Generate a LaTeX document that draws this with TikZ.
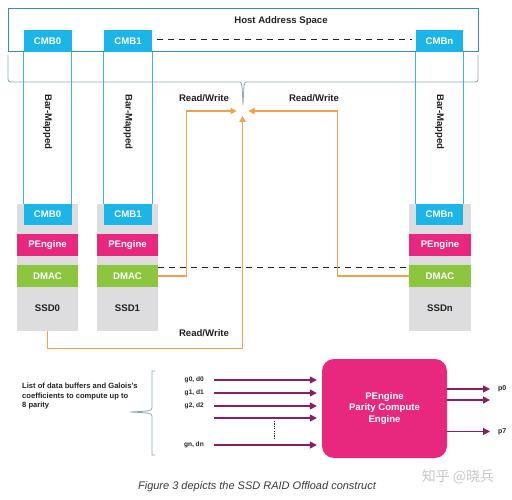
\documentclass[tikz,border=0pt]{standalone}
\usepackage{fontspec}
\setmainfont{Liberation Sans}
\newfontfamily\cjk{Noto Sans CJK SC}
\usetikzlibrary{arrows.meta}
\definecolor{cmbc}{HTML}{1CB5E8}
\definecolor{colline}{HTML}{3DB4D8}
\definecolor{hostc}{HTML}{3A8EA6}
\definecolor{pec}{HTML}{E8287F}
\definecolor{dmc}{HTML}{8CC63F}
\definecolor{ssdc}{HTML}{DDDDDF}
\definecolor{orc}{HTML}{EFA24A}
\definecolor{arc}{HTML}{8A1D5E}
\definecolor{brc}{HTML}{8AA6B6}
\definecolor{txtc}{HTML}{222222}
\definecolor{capc}{HTML}{3A3A3A}
\begin{document}
\begin{tikzpicture}[x=1pt,y=-1pt,
  lbl/.style={font=\fontsize{9.6}{11.5}\selectfont\bfseries, text=txtc},
  wlbl/.style={font=\fontsize{9.6}{11.5}\selectfont\bfseries, text=white, inner sep=0pt},
  cmbbox/.style={wlbl, fill=cmbc, minimum height=22pt},
  cmbbot/.style={wlbl, fill=cmbc, minimum height=21pt},
  pebox/.style={wlbl, fill=pec, minimum height=22pt, minimum width=61pt},
  dmbox/.style={wlbl, fill=dmc, minimum height=22pt, minimum width=61pt},
  ssdbox/.style={fill=ssdc, minimum height=127pt, inner sep=0pt},
  colln/.style={draw=colline, line width=0.9pt},
  dashln/.style={draw=txtc, line width=0.8pt, dash pattern=on 6pt off 5pt},
  orln/.style={draw=orc, line width=1.2pt, -{Triangle[length=6pt,width=6.5pt]}},
  inarr/.style={draw=arc, line width=1.4pt, -{Triangle[length=7pt,width=7pt]}},
  brace/.style={draw=brc, line width=0.8pt},
  small/.style={font=\fontsize{6.6}{8}\selectfont\bfseries, text=txtc, inner sep=0pt}
]
\useasboundingbox (0,0) rectangle (512,500);

% Host address space
\node[draw=hostc, line width=1pt, minimum width=470pt, minimum height=43pt, inner sep=0pt] (host) at (243,30.5) {};
\node[lbl] (hosttitle) at (281,21) {Host Address Space};

% top CMBs
\node[cmbbox, minimum width=48pt] (cmb0t) at (47.5,41) {CMB0};
\node[cmbbox, minimum width=48pt] (cmb1t) at (128,41) {CMB1};
\node[cmbbox, minimum width=47pt] (cmbnt) at (439.5,41) {CMBn};
\draw[dashln] ([xshift=5pt,yshift=2pt]cmb1t.east) -- ([xshift=-4pt,yshift=2pt]cmbnt.west);

% brace under host
\draw[brace] (8,55) -- (8,76) .. controls (8,82) .. (14,82) -- (240,82)
  .. controls (242,83) .. (243,105) .. controls (244,83) .. (246,82)
  -- (472,82) .. controls (478,82) .. (478,76) -- (478,55);

% SSD columns
\node[ssdbox, minimum width=61pt] (ssd0) at (47.5,267.5) {};
\node[ssdbox, minimum width=61pt] (ssd1) at (127.5,267.5) {};
\node[ssdbox, minimum width=62pt] (ssdn) at (440,267.5) {};

\node[cmbbot, minimum width=48pt] (cmb0b) at (47.5,214.5) {CMB0};
\node[cmbbot, minimum width=48pt] (cmb1b) at (128,214.5) {CMB1};
\node[cmbbot, minimum width=47pt] (cmbnb) at (439.5,214.5) {CMBn};

\node[pebox] (pe0) at (47.5,245) {PEngine};
\node[pebox] (pe1) at (127.5,245) {PEngine};
\node[pebox, minimum width=62pt] (pen) at (440,245) {PEngine};

\node[dmbox] (dmac0) at (47.5,276) {DMAC};
\node[dmbox] (dmac1) at (127.5,276) {DMAC};
\node[dmbox, minimum width=62pt] (dmacn) at (440,276) {DMAC};

\node[lbl] (ssd0t) at (47.5,308) {SSD0};
\node[lbl] (ssd1t) at (127.5,308) {SSD1};
\node[lbl] (ssdnt) at (440,308) {SSDn};

% column outlines
\draw[colln] (cmb0t.south west) -- (cmb0b.north west);
\draw[colln] (cmb0t.south east) -- (cmb0b.north east);
\draw[colln] (cmb1t.south west) -- (cmb1b.north west);
\draw[colln] (cmb1t.south east) -- (cmb1b.north east);
\draw[colln] (cmbnt.south west) -- (cmbnb.north west);
\draw[colln] (cmbnt.south east) -- (cmbnb.north east);

\node[lbl, rotate=-90] (bm0) at (47.5,122) {Bar-Mapped};
\node[lbl, rotate=-90] (bm1) at (128,122) {Bar-Mapped};
\node[lbl, rotate=-90] (bmn) at (439.5,122) {Bar-Mapped};

% DMAC dashed link
\draw[dashln] ([yshift=9pt]dmac1.east) -- ([yshift=9pt]dmacn.west);

% Read/Write orange paths
\coordinate (hub) at (242.5,111);
\draw[orln] (dmac1.east) -- ++(28,0) |- ([xshift=-6pt]hub);
\draw[orln] (dmacn.west) -- ++(-71,0) |- ([xshift=6pt]hub);
\draw[orln] (ssd0.south) -- ++(0,17) -| ([yshift=-5pt]hub);
\node[lbl] (rw1) at (204,98) {Read/Write};
\node[lbl] (rw2) at (314,98) {Read/Write};
\node[lbl] (rw3) at (204,333) {Read/Write};

% bottom: list & brace
\node[font=\fontsize{7.6}{9.5}\selectfont\bfseries, text=txtc, align=left, anchor=north west, inner sep=0pt] (list) at (22,383)
  {List of data buffers and Galois's\\coefficients to compute up to\\8 parity};
\draw[brace] (155,371) -- (152,371) -- (152,408) .. controls (151,411) .. (130,412)
  .. controls (151,413) .. (152,416) -- (152,455) -- (155,455);

% Parity compute engine
\node[fill=pec, rounded corners=12pt, minimum width=125pt, minimum height=99pt, inner sep=0pt,
  text=white, align=center, font=\fontsize{9.6}{11.5}\selectfont\bfseries] (pebig) at (384.5,408.5)
  {PEngine\\Parity Compute\\Engine};

\node[small, anchor=east] (g0) at (204,380) {g0, d0};
\node[small, anchor=east] (g1) at (204,393) {g1, d1};
\node[small, anchor=east] (g2) at (204,406) {g2, d2};
\coordinate (g3) at (204,418);
\node[small, anchor=east] (gn) at (204,445) {gn, dn};
\foreach \g in {g0,g1,g2,g3,gn}
  \draw[inarr, shorten >=5pt] ([xshift=10pt]\g.east) -- (\g.east -| pebig.west);
\draw[draw=txtc, line width=0.9pt, dash pattern=on 1.2pt off 1.2pt] (274,421) -- (274,438);

\node[small, anchor=west, font=\fontsize{7}{8}\selectfont\bfseries] (p0) at (498,389) {p0};
\coordinate (p1) at (498,400);
\node[small, anchor=west, font=\fontsize{7}{8}\selectfont\bfseries] (p7) at (498,431.5) {p7};
\foreach \p in {p0,p1,p7}
  \draw[inarr, shorten >=8pt] (pebig.east |- \p.west) -- (\p.west);

% caption and watermark
\node[font=\fontsize{11}{13}\selectfont\itshape, text=capc] (cap) at (257,487) {Figure 3 depicts the SSD RAID Offload construct};
\node[font=\cjk\fontsize{14}{16}\selectfont, text=black!22] (wm) at (458,477) {知乎 @晓兵};
\end{tikzpicture}
\end{document}
